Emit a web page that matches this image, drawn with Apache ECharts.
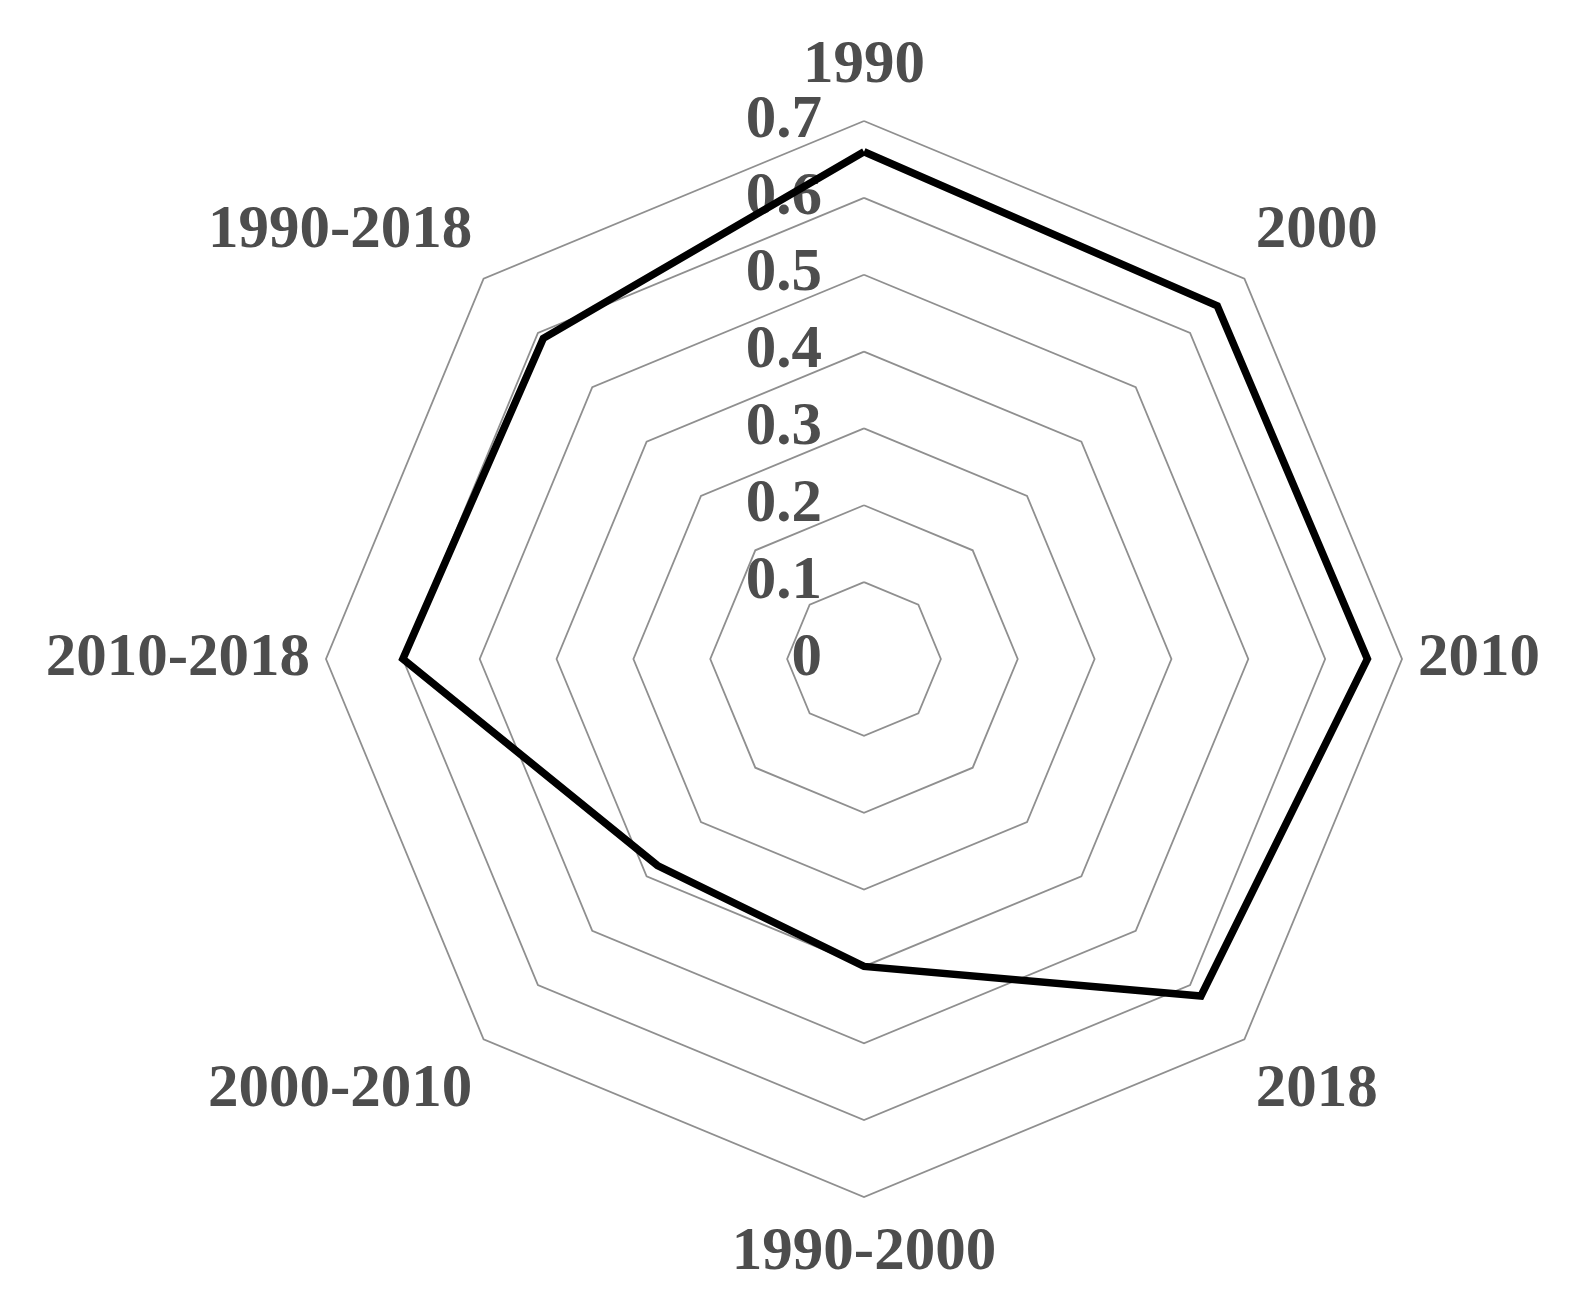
<!DOCTYPE html>
<html>
<head>
<meta charset="utf-8">
<script src="https://cdn.jsdelivr.net/npm/echarts@6/dist/echarts.min.js"></script>
<style>
html,body{margin:0;padding:0;background:#fff;}
#chart{width:1574px;height:1304px;}
</style>
</head>
<body>
<div id="chart"></div>
<script>
// Categories listed counter-clockwise from the top (ECharts radar default direction)
var categories = ['1990', '1990-2018', '2010-2018', '2000-2010', '1990-2000', '2018', '2010', '2000'];
var values = [0.66, 0.59, 0.60, 0.38, 0.40, 0.62, 0.655, 0.65];
var tickLabels = ['0', '0.1', '0.2', '0.3', '0.4', '0.5', '0.6', '0.7'];
var axisMax = 0.7;

var labelColor = '#4d4d4d';
var fontFamily = '"Liberation Serif", "Times New Roman", serif';
var placement = ['top', 'up', 'mid', 'down', 'bottom', 'down', 'mid', 'up'];

function richStyle(pad) {
  return { fontFamily: fontFamily, fontWeight: 'bold', fontSize: 61, color: labelColor, padding: pad };
}

var chart = echarts.init(document.getElementById('chart'), null, { renderer: 'canvas' });
chart.setOption({
  backgroundColor: '#ffffff',
  animation: false,
  radar: {
    center: [864, 659],
    radius: 538,
    startAngle: 90,
    shape: 'polygon',
    splitNumber: 7,
    nameGap: 16,
    indicator: categories.map(function (c) { return { name: c, min: 0, max: axisMax }; }),
    axisName: {
      color: labelColor,
      fontFamily: fontFamily,
      fontWeight: 'bold',
      fontSize: 61,
      formatter: function (name) {
        var i = categories.indexOf(name);
        return '{' + placement[i] + '|' + name + '}';
      },
      rich: {
        top: richStyle([0, 0, 8, 0]),
        bottom: richStyle([10, 0, 0, 0]),
        up: richStyle([0, 0, 72, 0]),
        down: richStyle([78, 0, 0, 0]),
        mid: richStyle([0, 0, 0, 0])
      }
    },
    axisLine: { show: false },
    axisTick: { show: false },
    axisLabel: { show: false },
    splitArea: { show: false },
    splitLine: { lineStyle: { color: '#8f8f8f', width: 1.8 } }
  },
  grid: { left: 864, top: 121, width: 1, height: 538 },
  xAxis: { type: 'value', show: false },
  yAxis: {
    type: 'value',
    min: 0,
    max: axisMax,
    interval: 0.1,
    position: 'left',
    axisLine: { show: false },
    axisTick: { show: false },
    splitLine: { show: false },
    axisLabel: {
      margin: 42,
      color: labelColor,
      fontFamily: fontFamily,
      fontWeight: 'bold',
      fontSize: 61,
      formatter: function (v) {
        var idx = Math.round(v * 10);
        return tickLabels[idx] !== undefined ? tickLabels[idx] : '';
      }
    }
  },
  series: [{
    type: 'radar',
    symbol: 'none',
    lineStyle: { color: '#000000', width: 7.5, join: 'miter' },
    data: [{ value: values, name: 'series' }]
  }]
});
</script>
</body>
</html>
